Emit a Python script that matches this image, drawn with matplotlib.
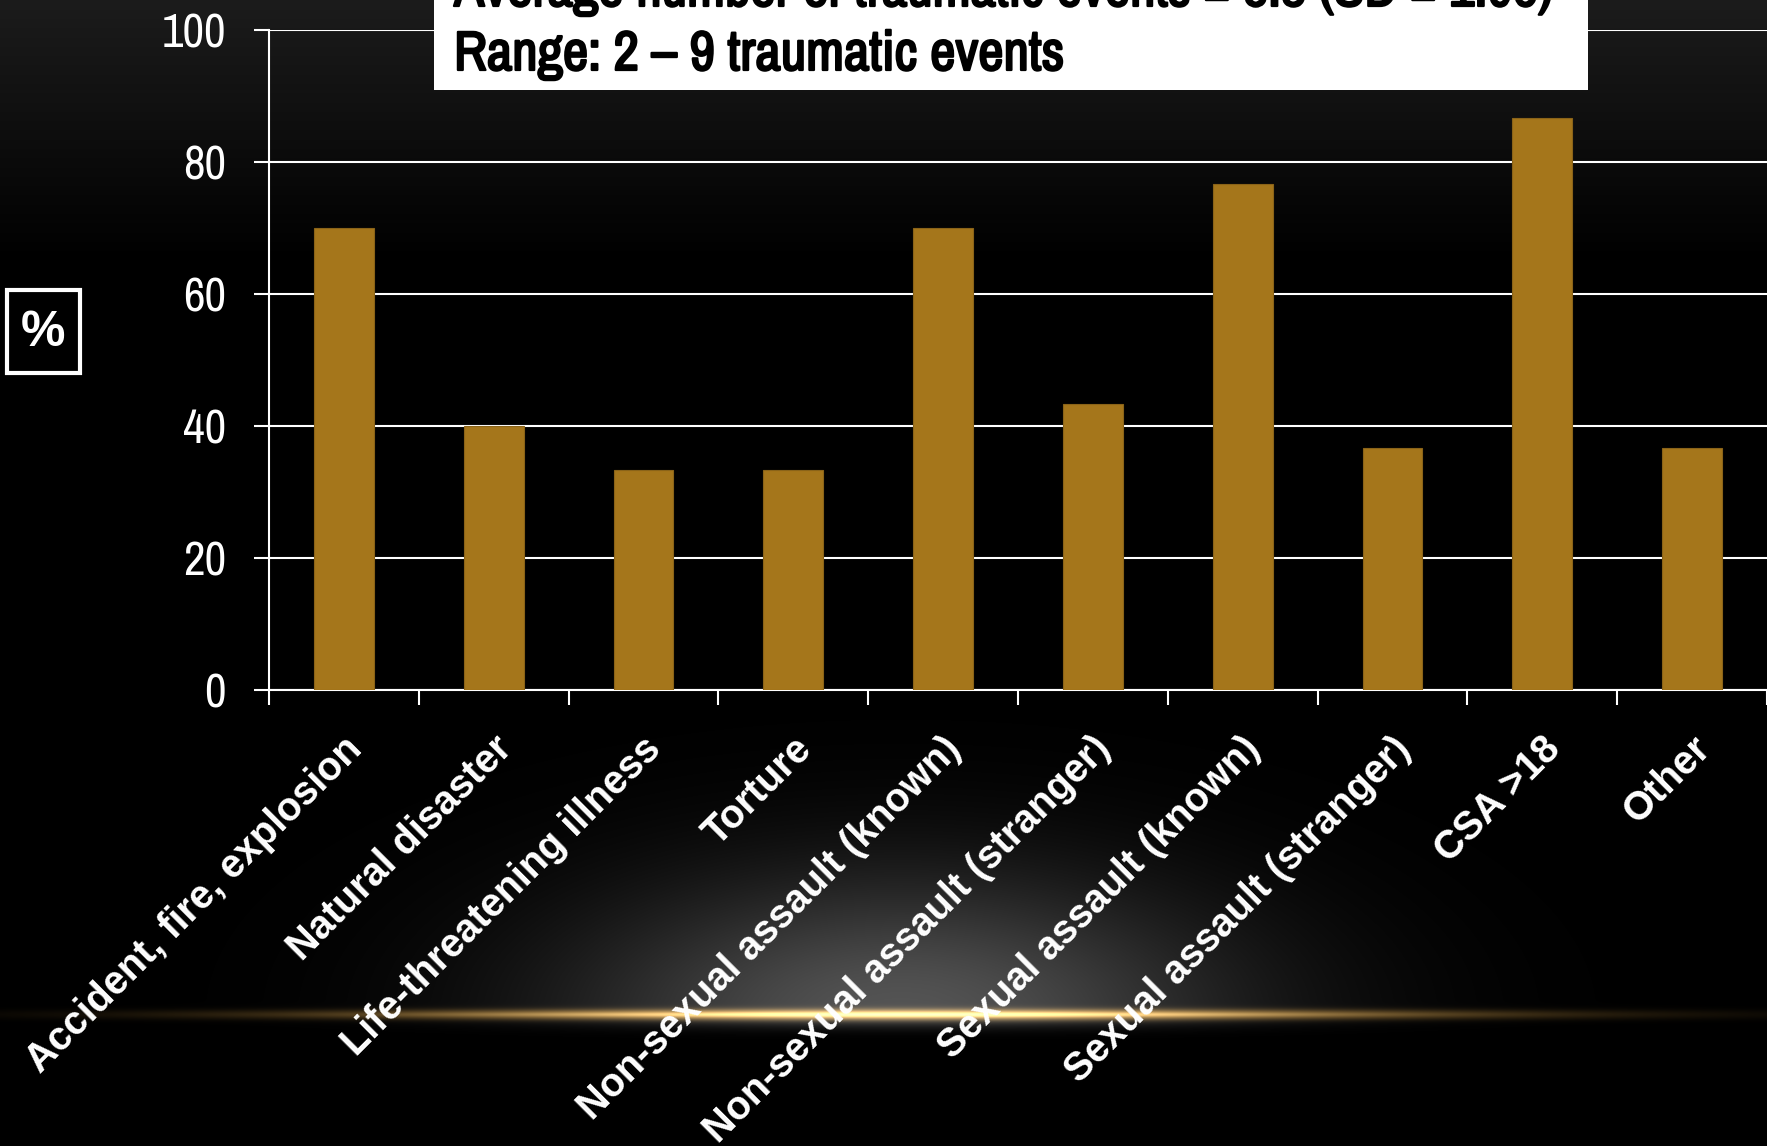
import numpy as np
import matplotlib
matplotlib.use("Agg")
import matplotlib.pyplot as plt
import matplotlib.transforms as mtransforms
import matplotlib.patheffects as pe
from matplotlib.patches import Rectangle

# data (n = 30, so multiples of 3.33 %)
categories = ["Accident, fire, explosion", "Natural disaster", "Life-threatening illness",
              "Torture", "Non-sexual assault (known)", "Non-sexual assault (stranger)",
              "Sexual assault (known)", "Sexual assault (stranger)", "CSA >18", "Other"]
percent = [70.0, 40.0, 33.3, 33.3, 70.0, 43.3, 76.7, 36.7, 86.7, 36.7]
yticks = [0, 20, 40, 60, 80, 100]

note_lines = ["Average number of traumatic events = 5.3 (SD = 1.96)",
              "Range: 2 \u2013 9 traumatic events"]

W, H = 1767, 1146
NARROW = ["Archivo Narrow", "Liberation Sans", "DejaVu Sans"]
BOLD = ["Liberation Sans", "DejaVu Sans"]

fig = plt.figure(figsize=(W / 100, H / 100), dpi=100)
fig.patch.set_facecolor("black")

# background: dark top gradient, soft glow and golden streak near the bottom
yy, xx = np.mgrid[0:H, 0:W].astype(float)
bg = np.zeros((H, W, 3))
top = np.clip(1 - yy / 260.0, 0, 1) * 28 / 255.0
bg += top[..., None]
cx, cy = 900.0, 1014.0
glow = np.exp(-(((xx - cx) / 330.0) ** 2 + ((yy - cy) / 140.0) ** 2))
glow[yy > cy] *= np.exp(-((yy[yy > cy] - cy) / 12.0) ** 2)
bg += (glow * 0.33)[..., None]
streak = np.exp(-((yy - cy) / 5.0) ** 2) * np.exp(-((xx - cx) / 520.0) ** 2)
core = np.exp(-((yy - cy) / 2.0) ** 2) * np.exp(-((xx - cx) / 350.0) ** 2)
bg += streak[..., None] * np.array([0.85, 0.62, 0.25])
bg += core[..., None] * np.array([0.25, 0.25, 0.22])
bg = np.clip(bg, 0, 1)

bax = fig.add_axes([0, 0, 1, 1])
bax.imshow(bg, aspect="auto", extent=[0, W, H, 0])
bax.set_xlim(0, W)
bax.set_ylim(H, 0)
bax.axis("off")

# main chart
ax = fig.add_axes([269 / W, 1 - 690 / H, 1 - 269 / W, (690 - 30) / H])
ax.set_facecolor("none")
x = np.arange(len(categories))
ax.bar(x, percent, width=0.4, color="#a5761b", edgecolor="#8a6318", linewidth=0.8, zorder=3)
ax.set_xlim(-0.5, len(categories) - 0.5)
ax.set_ylim(0, 100)
ax.set_yticks(yticks)
ax.yaxis.grid(True, color="white", linewidth=1.5, zorder=1)

for side in ["top", "right"]:
    ax.spines[side].set_visible(False)
for side in ["left", "bottom"]:
    ax.spines[side].set_color("white")
    ax.spines[side].set_linewidth(1.5)

ax.set_xticks(np.arange(len(categories) + 1) - 0.5)
ax.set_xticklabels([])
ax.set_xticks(x, minor=True)
ax.set_xticklabels(categories, minor=True, rotation=45, ha="right", va="center",
                   rotation_mode="anchor", color="white", fontsize=28.5,
                   fontweight="bold", family=BOLD)
ax.tick_params(axis="x", which="major", length=11, width=1.5, color="white", direction="out")
ax.tick_params(axis="x", which="minor", length=0, pad=38)
ax.tick_params(axis="y", length=11, width=1.5, color="white", pad=20,
               labelcolor="white", labelsize=34)
for lab in ax.get_yticklabels():
    lab.set_family(NARROW)
shift = mtransforms.ScaledTranslation(12 / 100, 0, fig.dpi_scale_trans)
for lab in ax.get_xticklabels(minor=True):
    lab.set_transform(lab.get_transform() + shift)

# "%" box on the left
fig.patches.append(Rectangle((7 / W, 1 - 373 / H), 73 / W, 83 / H, transform=fig.transFigure,
                             facecolor="black", edgecolor="white", linewidth=3))
fig.text(43 / W, 1 - 333 / H, "%", color="white", fontsize=36, fontweight="bold",
         ha="center", va="center", family=BOLD)

# white note box at the top (partly cut off on the slide)
fig.patches.append(Rectangle((434 / W, 1 - 90 / H), (1588 - 434) / W, 100 / H,
                             transform=fig.transFigure, facecolor="white",
                             edgecolor="none", zorder=5))
# narrow font has no bold cut here, so thicken it with a stroke
heavy = [pe.withStroke(linewidth=1.6, foreground="black")]
for i, line in enumerate(note_lines):
    fig.text(454 / W, 1 - (6 + 64 * i) / H, line, color="black", fontsize=40,
             family=NARROW, va="baseline", zorder=6, path_effects=heavy)

fig.savefig("out.png", dpi=100, facecolor=fig.get_facecolor())
